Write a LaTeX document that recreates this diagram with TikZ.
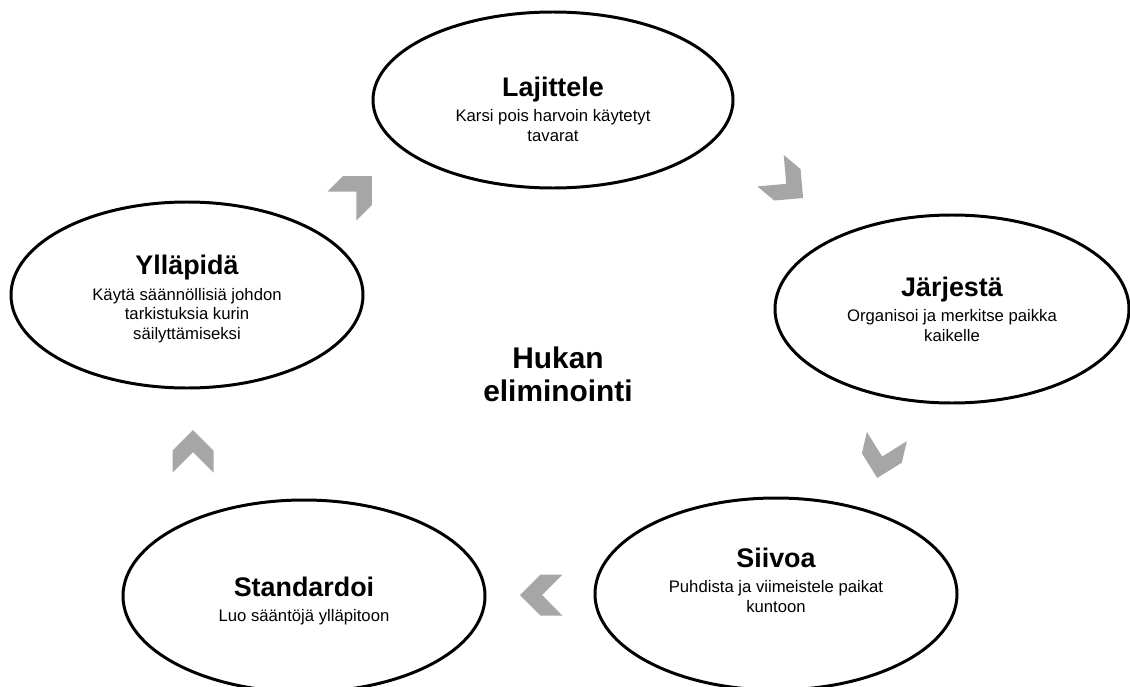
\documentclass[tikz,border=0pt]{standalone}
\usepackage{fontspec}
\setmainfont{Liberation Sans}
\usepackage{xcolor}
\usepackage{tikz}
\usetikzlibrary{shapes.geometric}
\definecolor{ringLine}{HTML}{000000}
\definecolor{chevGray}{HTML}{A6A6A6}
\newcommand{\phasetitle}[1]{{\fontsize{15.3}{17}\selectfont\bfseries #1}\\[3pt]}

\begin{document}
\begin{tikzpicture}[phase/.style={draw=ringLine, ellipse, line width=1.7pt, inner sep=0pt, align=center, font=\fontsize{9.5}{11.3}\selectfont},chev/.pic={\fill[chevGray] (0,0.42)--(0.41,0.01)--(0.41,-0.43)--(0,-0.02)--(-0.41,-0.43)--(-0.41,0.01)--cycle;}]
\useasboundingbox (0,0) rectangle (22.6,-13.74);
\node[phase, minimum width=7.2cm, minimum height=3.52cm] (laj) at (11.06,-2.0) {\rule{0pt}{22pt}\phasetitle{Lajittele}Karsi pois harvoin käytetyt\\tavarat};
\node[phase, minimum width=7.08cm, minimum height=3.76cm] (jar) at (19.04,-6.18) {\phasetitle{Järjestä}Organisoi ja merkitse paikka\\kaikelle};
\node[phase, minimum width=7.24cm, minimum height=3.84cm] (sii) at (15.52,-11.88) {\phasetitle{Siivoa}Puhdista ja viimeistele paikat\\kuntoon\rule[-16pt]{0pt}{0pt}};
\node[phase, minimum width=7.24cm, minimum height=3.84cm] (sta) at (6.08,-11.92) {\rule{0pt}{17pt}\phasetitle{Standardoi}Luo sääntöjä ylläpitoon};
\node[phase, minimum width=7.04cm, minimum height=3.72cm] (yll) at (3.74,-5.9) {\rule{0pt}{16pt}\phasetitle{Ylläpidä}Käytä säännöllisiä johdon\\tarkistuksia kurin\\säilyttämiseksi};
\node[align=center, font=\fontsize{17}{18.7}\selectfont\bfseries] (hub) at (11.16,-7.48) {Hukan\\eliminointi};
\foreach \x/\y/\r in {7.14/-3.82/-45, 15.74/-3.69/-130, 17.64/-9.15/-193, 10.82/-11.9/90, 3.86/-9.02/0}
  \pic[rotate=\r] at (\x,\y) {chev};
\end{tikzpicture}
\end{document}
